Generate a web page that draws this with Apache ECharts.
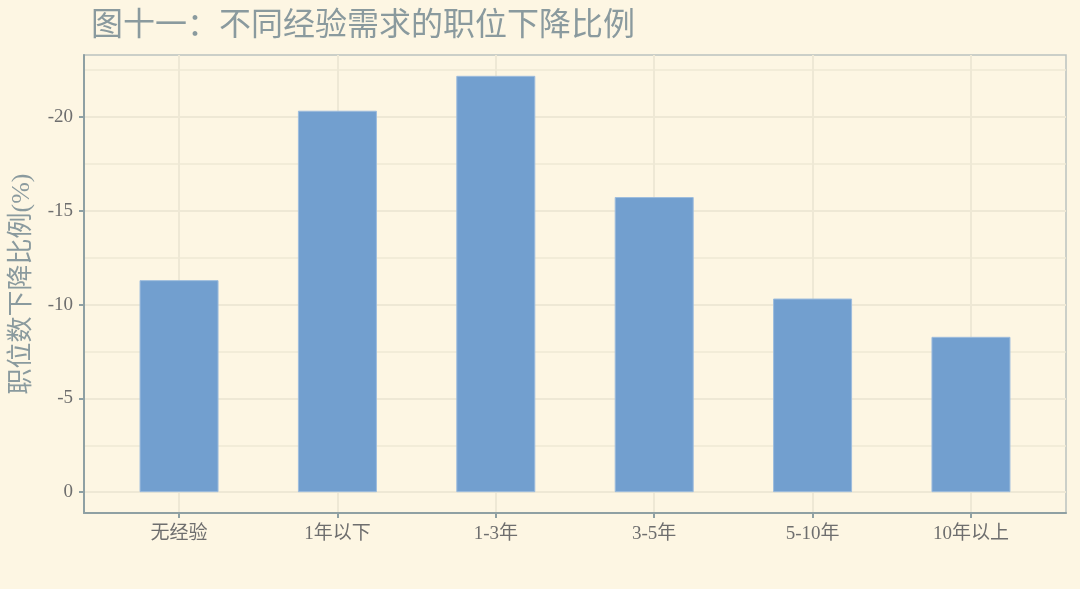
<!DOCTYPE html>
<html>
<head>
<meta charset="utf-8">
<script src="https://cdn.jsdelivr.net/npm/echarts@6/dist/echarts.min.js"></script>
<style>
html, body { margin: 0; padding: 0; background: #FDF6E3; }
#chart { width: 1080px; height: 589px; }
</style>
</head>
<body>
<div id="chart"></div>
<script>
var categories = ['无经验', '1年以下', '1-3年', '3-5年', '5-10年', '10年以上'];
var decline = [-11.3, -20.33, -22.19, -15.73, -10.32, -8.28];
var yTicks = [0, -5, -10, -15, -20];
var yMinorTicks = [-2.5, -7.5, -12.5, -17.5, -22.5];
var xTicks = [0, 1, 2, 3, 4, 5];

var fontFamily = '"Liberation Serif", "DejaVu Serif", "Noto Sans CJK SC", serif';
var gridColor = '#EEE8D5';
var axisColor = '#8FA0A3';

var myChart = echarts.init(document.getElementById('chart'));
var option = {
  backgroundColor: '#FDF6E3',
  animation: false,
  title: {
    text: '图十一：不同经验需求的职位下降比例',
    left: 86,
    top: 6,
    textStyle: {
      color: '#8A9A9E',
      fontFamily: fontFamily,
      fontWeight: 'normal',
      fontSize: 32
    }
  },
  grid: {
    left: 84,
    right: 14,
    top: 55,
    bottom: 76,
    show: true,
    backgroundColor: 'transparent',
    borderColor: '#BAC2C0',
    borderWidth: 1.5
  },
  xAxis: {
    type: 'value',
    min: -0.6,
    max: 5.6,
    axisLine: { show: true, onZero: false, lineStyle: { color: axisColor, width: 2 } },
    axisTick: { show: true, length: 5, customValues: xTicks, lineStyle: { color: axisColor, width: 2 } },
    axisLabel: {
      customValues: xTicks,
      margin: 12,
      color: '#6E6E6E',
      fontSize: 19,
      fontFamily: fontFamily,
      formatter: function (v) { return categories[Math.round(v)]; }
    },
    splitLine: { show: true, lineStyle: { color: gridColor, width: 2 } }
  },
  yAxis: [
    {
      type: 'value',
      inverse: true,
      min: -23.3,
      max: 1.11,
      name: '职位数下降比例(%)',
      nameLocation: 'middle',
      nameGap: 49,
      nameRotate: 90,
      nameTextStyle: { color: '#8A9A9E', fontSize: 26, fontFamily: fontFamily },
      axisLine: { show: true, onZero: false, lineStyle: { color: axisColor, width: 2 } },
      axisTick: { show: true, length: 5, customValues: yTicks, lineStyle: { color: axisColor, width: 2 } },
      axisLabel: {
        customValues: yTicks,
        margin: 11,
        color: '#6E6E6E',
        fontSize: 19,
        fontFamily: fontFamily
      },
      splitLine: { show: true, lineStyle: { color: gridColor, width: 2 } }
    },
    {
      type: 'value',
      inverse: true,
      min: -23.3,
      max: 1.11,
      position: 'left',
      axisLine: { show: false },
      axisTick: { show: false, customValues: yMinorTicks },
      axisLabel: { show: false, customValues: yMinorTicks },
      splitLine: { show: true, lineStyle: { color: gridColor, width: 1.5 } }
    }
  ],
  series: [
    {
      name: '职位数下降比例',
      type: 'bar',
      barWidth: 79,
      itemStyle: { color: '#729FCF', borderColor: '#9DBCDD', borderWidth: 1 },
      data: decline.map(function (v, i) { return [i, v]; })
    }
  ]
};
myChart.setOption(option);
</script>
</body>
</html>
